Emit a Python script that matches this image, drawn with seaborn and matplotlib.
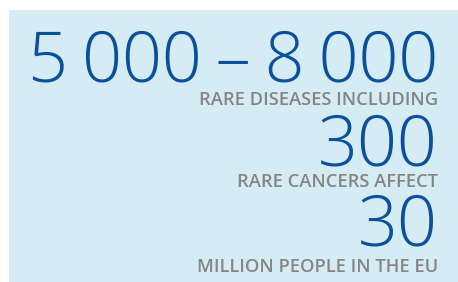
import matplotlib
matplotlib.use("Agg")
import matplotlib.pyplot as plt
import seaborn as sns
from matplotlib.patches import Rectangle

# ---- data ----
figures = ["5\u2009000\u2009–\u20098\u2009000", "300", "30"]
captions = ["RARE DISEASES INCLUDING", "RARE CANCERS AFFECT", "MILLION PEOPLE IN THE EU"]

# ---- style ----
sns.set_theme(style="white")
plt.rcParams["font.family"] = ["Open Sans", "DejaVu Sans"]

BG = "#d5ecf5"
BLUE = "#0a509c"
GREY = "#858585"

W, H = 458, 282
fig = plt.figure(figsize=(W / 100, H / 100), dpi=100)
ax = fig.add_axes([0, 0, 1, 1])
ax.set_xlim(0, W)
ax.set_ylim(H, 0)
ax.axis("off")
ax.add_patch(Rectangle((9, 10), 449, 272, facecolor=BG, edgecolor="none"))

right = 438
fig_baselines = [82, 166, 246]
cap_baselines = [105, 187, 272]
cap_widths = [240, 201, 240]

renderer = fig.canvas.get_renderer()


def fit(t, target):
    for _ in range(4):
        bb = t.get_window_extent(renderer=renderer)
        t.set_fontsize(t.get_fontsize() * target / bb.width)


big_size = 50 / 0.714 * 0.72
for s, y in zip(figures, fig_baselines):
    ax.text(right, y, s, ha="right", va="baseline", color=BLUE,
            fontsize=big_size, fontweight="light")

for s, y, w in zip(captions, cap_baselines, cap_widths):
    t = ax.text(right, y, s, ha="right", va="baseline", color=GREY,
                fontsize=12, fontweight="semibold")
    fit(t, w)

fig.savefig("out.png", dpi=100)
